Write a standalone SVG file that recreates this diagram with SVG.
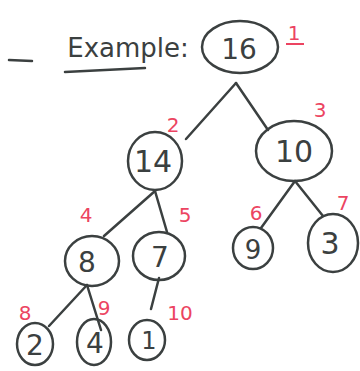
<svg xmlns="http://www.w3.org/2000/svg" width="360" height="371" viewBox="0 0 360 371">
<style>
.n{fill:none;stroke:#3b4040;stroke-width:2.5}
.t{font-family:"DejaVu Sans","Liberation Sans",sans-serif;fill:#3b4040;text-anchor:middle}
.r{font-family:"DejaVu Sans","Liberation Sans",sans-serif;fill:#ec4461;text-anchor:middle;font-size:20px}
.e{stroke:#3b4040;stroke-width:2.5;fill:none;stroke-linecap:round}
</style>
<rect width="360" height="371" fill="#fff"/>
<g id="title">
<line class="e" x1="9" y1="60" x2="32" y2="61"/>
<text x="128" y="57" class="t" font-size="26">Example:</text>
<line class="e" x1="65" y1="72" x2="145" y2="68"/>
</g>
<g id="connectors">
<line class="e" x1="236" y1="83" x2="186" y2="139"/>
<line class="e" x1="236" y1="83" x2="268" y2="130"/>
<line class="e" x1="155" y1="191" x2="104" y2="236"/>
<line class="e" x1="155" y1="191" x2="167" y2="232"/>
<line class="e" x1="295" y1="181" x2="261" y2="228"/>
<line class="e" x1="295" y1="181" x2="323" y2="216"/>
<line class="e" x1="87" y1="285" x2="49" y2="326"/>
<line class="e" x1="87" y1="285" x2="101" y2="330"/>
<line class="e" x1="159" y1="278" x2="151" y2="309"/>
</g>
<g id="n1">
<ellipse class="n" cx="240" cy="47" rx="38" ry="26"/>
<text x="239" y="59" class="t" font-size="28">16</text>
<text x="294" y="40" class="r">1</text>
<line x1="286" y1="44" x2="304" y2="44" stroke="#ec4461" stroke-width="2"/>
</g>
<g id="n2">
<ellipse class="n" cx="155" cy="161" rx="27" ry="29"/>
<text x="153" y="172" class="t" font-size="30">14</text>
<text x="173" y="132" class="r">2</text>
</g>
<g id="n3">
<ellipse class="n" cx="294" cy="151" rx="38" ry="30"/>
<text x="294" y="162" class="t" font-size="30">10</text>
<text x="320" y="117" class="r">3</text>
</g>
<g id="n4">
<ellipse class="n" cx="92" cy="261" rx="27" ry="25"/>
<text x="87" y="272" class="t" font-size="28">8</text>
<text x="86" y="222" class="r">4</text>
</g>
<g id="n5">
<ellipse class="n" cx="159" cy="256" rx="26" ry="24"/>
<text x="160" y="267" class="t" font-size="28">7</text>
<text x="185" y="222" class="r">5</text>
</g>
<g id="n6">
<ellipse class="n" cx="253" cy="248" rx="20" ry="21"/>
<text x="253" y="259" class="t" font-size="26">9</text>
<text x="256" y="220" class="r">6</text>
</g>
<g id="n7">
<ellipse class="n" cx="333" cy="243" rx="25" ry="29"/>
<text x="330" y="254" class="t" font-size="30">3</text>
<text x="343" y="210" class="r">7</text>
</g>
<g id="n8">
<ellipse class="n" cx="35" cy="344" rx="18" ry="21"/>
<text x="35" y="355" class="t" font-size="28">2</text>
<text x="25" y="320" class="r">8</text>
</g>
<g id="n9">
<ellipse class="n" cx="94" cy="342" rx="17" ry="23"/>
<text x="95" y="353" class="t" font-size="28">4</text>
<text x="104" y="315" class="r">9</text>
</g>
<g id="n10">
<ellipse class="n" cx="147" cy="340" rx="18" ry="20"/>
<text x="149" y="349" class="t" font-size="24">1</text>
<text x="180" y="320" class="r">10</text>
</g>
</svg>
